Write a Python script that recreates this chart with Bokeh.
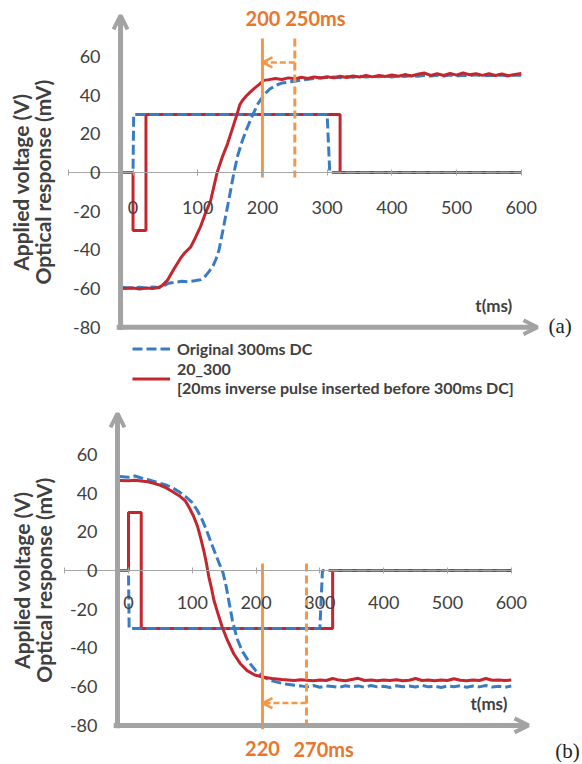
import math
from bokeh.plotting import figure
from bokeh.models import (LinearAxis, FixedTicker, Arrow, OpenHead, Legend,
                          LegendItem, Range1d)
from bokeh.layouts import column
from bokeh.core.properties import value
from bokeh.embed import file_html
from bokeh.resources import INLINE

# ---------------- data : panel (a) ----------------
a_volt_blue_t = [-16, 0, 1, 300, 304, 600]
a_volt_blue = [0, 0, 30, 30, 0, 0]
a_volt_red_t = [-16, 0, 0, 20, 20, 320, 320, 600]
a_volt_red = [0, 0, -30, -30, 30, 30, 0, 0]

a_opt_blue_t = [-16, 0, 10, 20, 30, 40, 48, 55, 65, 75,
                85, 95, 104, 112, 118, 124, 128, 133, 140, 147,
                156, 162, 169, 177, 185, 193, 202, 211, 220, 230,
                240, 250, 260, 270, 280, 290, 300,
                310, 320, 330, 340, 350, 360, 370, 380, 390, 400,
                410, 420, 430, 440, 450, 460, 470, 480, 490, 500,
                510, 520, 530, 540, 550, 560, 570, 580, 590, 600]
a_opt_blue = [-59.5, -59.8, -59.4, -59.7, -59.2, -59.5, -58.5, -57.3, -56.8, -56.3,
              -56.5, -56.0, -55.5, -53.5, -51.0, -48.0, -45.0, -40.0, -28.0, -16.0,
              0.0, 9.0, 16.5, 23.5, 29.8, 35.5, 40.0, 43.0, 45.0, 46.2,
              46.7, 47.2, 47.8, 48.2, 48.6, 48.9, 49.1,
              49.4, 49.0, 49.6, 49.2, 49.8, 49.3, 49.7, 49.5, 49.9, 49.4,
              50.0, 49.6, 50.1, 49.7, 50.2, 49.8, 50.3, 49.9, 50.4, 49.8,
              50.2, 50.0, 50.5, 49.9, 50.3, 50.1, 50.4, 49.9, 50.2, 50.3]

a_opt_red_t = [-16, 0, 10, 20, 30, 40, 45, 53, 63, 73,
               80, 89, 96, 104, 112, 120, 130, 138, 146, 153,
               161, 165, 169, 175, 181, 187, 195, 202,
               210, 220, 230, 240, 250, 260, 270, 280, 290, 300,
               310, 320, 330, 340, 350, 360, 370, 380, 390, 400,
               410, 420, 430, 440, 450, 460, 470, 480, 490, 500,
               510, 520, 530, 540, 550, 560, 570, 580, 590, 600]
a_opt_red = [-60.0, -59.7, -60.2, -59.8, -60.0, -59.5, -58.5, -55.8, -50.0, -44.6,
             -41.5, -38.6, -34.0, -28.3, -21.0, -14.5, 0.0, 8.0, 14.8, 22.0,
             30.4, 35.0, 37.2, 39.5, 41.5, 43.3, 45.5, 47.6,
             48.0, 48.6, 48.1, 48.9, 48.4, 49.2, 48.6, 49.4, 48.8, 49.5,
             48.9, 49.7, 49.1, 49.9, 49.3, 50.1, 49.4, 50.2, 49.6, 50.4,
             49.7, 50.6, 49.9, 50.8, 51.4, 50.2, 51.0, 50.1, 51.2, 50.3,
             51.5, 50.5, 51.1, 50.2, 51.0, 50.1, 50.9, 50.0, 50.7, 51.1]

a_marks_t = [200, 250]
a_mark_labels = ["200 250ms"]

# ---------------- data : panel (b) ----------------
b_volt_blue_t = [-14, 0, 1, 300, 304, 600]
b_volt_blue = [0, 0, -30, -30, 0, 0]
b_volt_red_t = [-14, 0, 0, 20, 20, 320, 320, 600]
b_volt_red = [0, 0, 30, 30, -30, -30, 0, 0]

b_opt_blue_t = [-14, 0, 10, 20, 30, 40, 50, 60, 70, 80,
                90, 100, 108, 115, 122, 130, 137, 143, 148, 153,
                158, 163, 170, 178, 191, 200, 212, 225, 243, 260,
                270, 280, 290, 300, 310, 320, 330, 340, 350, 360,
                370, 380, 390, 400, 410, 420, 430, 440, 450, 460,
                470, 480, 490, 500, 510, 520, 530, 540, 550, 560,
                570, 580, 590, 600]
b_opt_blue = [48.5, 48.2, 48.8, 47.8, 47.0, 46.0, 45.0, 44.0, 42.5, 40.5,
              38.0, 35.0, 31.0, 26.5, 21.0, 14.0, 8.0, 3.0, -1.0, -8.0,
              -17.0, -26.0, -35.0, -41.5, -48.2, -52.0, -55.1, -57.0, -58.5, -59.3,
              -59.6, -60.1, -59.4, -60.3, -59.7, -59.9, -60.4, -59.5, -60.0, -59.6,
              -60.3, -59.4, -60.1, -59.8, -60.4, -59.5, -60.0, -59.7, -60.2, -59.3,
              -60.1, -59.8, -60.4, -59.6, -60.0, -59.5, -60.3, -59.7, -60.1, -59.4,
              -60.2, -59.8, -60.3, -59.7]

b_opt_red_t = [-14, 0, 10, 20, 30, 40, 50, 60, 70, 80,
               89, 96, 102, 108, 113, 118, 122, 126, 130, 134,
               140, 147, 155, 165, 175, 186, 198, 212, 225, 240,
               250, 260, 270, 280, 290, 300, 310, 320, 330, 340,
               350, 360, 370, 380, 390, 400, 410, 420, 430, 440,
               450, 460, 470, 480, 490, 500, 510, 520, 530, 540,
               550, 560, 570, 580, 590, 600]
b_opt_red = [46.5, 46.3, 46.6, 46.2, 45.8, 45.0, 44.0, 42.5, 40.5, 38.5,
             36.0, 32.0, 28.0, 23.0, 17.0, 10.3, 4.0, -3.4, -9.0, -15.5,
             -22.0, -29.3, -36.0, -43.0, -48.0, -51.7, -54.0, -55.1, -55.8, -56.3,
             -56.5, -56.8, -56.4, -56.7, -56.9, -56.5, -56.8, -55.8, -56.6, -56.9,
             -56.3, -55.7, -56.8, -56.5, -56.9, -56.6, -56.8, -56.4, -56.9, -56.7,
             -55.8, -56.8, -56.6, -56.9, -56.5, -56.8, -55.9, -56.7, -56.9, -56.6,
             -56.8, -55.8, -56.7, -56.5, -56.8, -56.6]

b_marks_t = [210, 279]
b_mark_labels = ["220", "270ms"]

y_ticks = [-80, -60, -40, -20, 0, 20, 40, 60]
y_tick_labels = ["-80", "-60", "-40", "-20", "0", "20", "40", "60"]
x_ticks = [-100, 0, 100, 200, 300, 400, 500, 600]
x_tick_labels = ["", "0", "100", "200", "300", "400", "500", "600"]
legend_labels = ["Original 300ms DC",
                 "20_300\n[20ms inverse pulse inserted before 300ms DC]"]

BLUE = "#3A7CC4"
RED = "#C4262E"
ORANGE = "#F79646"
ORANGE_TXT = "#E8762C"
GRAY = "#A3A3A3"
TXT = "#404040"
FONT = "Lato"


def base_figure(height, xr, yr, yaxis_at, x_standoff):
    p = figure(width=582, height=height, x_range=Range1d(*xr), y_range=Range1d(*yr),
               output_backend="svg", toolbar_location=None,
               x_axis_type=None, y_axis_type=None, min_border=0,
               outline_line_color=None)
    p.background_fill_color = "white"
    yax = LinearAxis(fixed_location=yaxis_at, ticker=FixedTicker(ticks=y_ticks),
                     major_label_overrides=dict(zip(y_ticks, y_tick_labels)),
                     axis_line_color=None, major_tick_line_color=None,
                     minor_tick_line_color=None, major_tick_out=0, major_tick_in=0,
                     major_label_standoff=20)
    yax.major_label_text_font = FONT
    yax.major_label_text_font_size = "18px"
    yax.major_label_text_color = TXT
    p.add_layout(yax, "left")
    xax = LinearAxis(fixed_location=0, bounds=(-100, 600), ticker=FixedTicker(ticks=x_ticks),
                     major_label_overrides=dict(zip(x_ticks, x_tick_labels)),
                     axis_line_color="#A6A6A6", axis_line_width=1,
                     major_tick_line_color="#A6A6A6", major_tick_in=3, major_tick_out=3,
                     minor_tick_line_color=None, major_label_standoff=x_standoff)
    xax.major_label_text_font = FONT
    xax.major_label_text_font_size = "18px"
    xax.major_label_text_color = TXT
    p.add_layout(xax, "below")
    return p


def draw_panel(p, vbt, vb, vrt, vr, obt, ob, ort, orr, yaxis_at, y_tip, x_tip,
               title_x, title_y, tms_xy, letter, letter_xy):
    p.line(vrt, vr, line_color=RED, line_width=3)
    p.line(vbt, vb, line_color=BLUE, line_width=3, line_dash="10 4")
    rb = p.line(obt, ob, line_color=BLUE, line_width=3, line_dash="10 4")
    rr = p.line(ort, orr, line_color=RED, line_width=3)
    # axis arrows
    p.add_layout(Arrow(end=OpenHead(size=14, line_color=GRAY, line_width=4),
                       x_start=yaxis_at, y_start=-81.5, x_end=yaxis_at, y_end=y_tip,
                       line_color=GRAY, line_width=5))
    p.add_layout(Arrow(end=OpenHead(size=14, line_color=GRAY, line_width=4),
                       x_start=yaxis_at - 6, y_start=-80, x_end=x_tip, y_end=-80,
                       line_color=GRAY, line_width=5))
    p.text(x=title_x, y=[title_y, title_y],
           text=["Applied voltage (V)", "Optical response (mV)"],
           angle=math.pi / 2, text_align="center", text_baseline="middle",
           text_font=value(FONT), text_font_style="bold", text_font_size="21px",
           text_color=TXT)
    p.text(x=[tms_xy[0]], y=[tms_xy[1]], text=["t(ms)"], text_align="left",
           text_baseline="middle", text_font=value(FONT), text_font_style="bold",
           text_font_size="17px", text_color=TXT)
    p.text(x=[letter_xy[0]], y=[letter_xy[1]], text=[letter], text_align="left",
           text_baseline="middle", text_font=value("Liberation Serif"),
           text_font_size="21px", text_color="#222222")
    return rb, rr


# ---------------- panel (a) ----------------
pa = base_figure(400, (-204.8, 694.6), (-117.9, 88.9), -19.3, 26)
rb, rr = draw_panel(pa, a_volt_blue_t, a_volt_blue, a_volt_red_t, a_volt_red,
                    a_opt_blue_t, a_opt_blue, a_opt_red_t, a_opt_red,
                    -19.3, 81.2, 625, [-173.9, -139.8], -5.0, (529, -68.8),
                    "(a)", (642, -79.6))
pa.segment(x0=[a_marks_t[0]], y0=[69.3], x1=[a_marks_t[0]], y1=[-2.6],
           line_color=ORANGE, line_width=3)
pa.segment(x0=[a_marks_t[1]], y0=[69.3], x1=[a_marks_t[1]], y1=[-2.6],
           line_color=ORANGE, line_width=3, line_dash="8 4")
pa.add_layout(Arrow(end=OpenHead(size=10, line_color=ORANGE, line_width=2.5),
                    x_start=a_marks_t[1], y_start=56.9, x_end=a_marks_t[0], y_end=56.9,
                    line_color=ORANGE, line_width=2.5, line_dash="6 3"))
pa.text(x=[173.9], y=[80.1], text=a_mark_labels, text_align="left",
        text_baseline="middle", text_font=value(FONT), text_font_style="bold",
        text_font_size="20px", text_color=ORANGE_TXT)

legend = Legend(items=[LegendItem(label=legend_labels[0], renderers=[rb]),
                       LegendItem(label=legend_labels[1], renderers=[rr])],
                location=(132, 3), padding=0, margin=0, spacing=0,
                glyph_width=38, glyph_height=21, label_height=21, label_standoff=7,
                border_line_color=None, background_fill_alpha=0)
legend.label_text_font = FONT
legend.label_text_font_style = "bold"
legend.label_text_font_size = "16px"
legend.label_text_color = TXT
pa.add_layout(legend)

# ---------------- panel (b) ----------------
pb = base_figure(364, (-200.6, 711.6), (-100.2, 87.8), -17.2, 23)
draw_panel(pb, b_volt_blue_t, b_volt_blue, b_volt_red_t, b_volt_red,
           b_opt_blue_t, b_opt_blue, b_opt_red_t, b_opt_red,
           -17.2, 81.1, 627, [-167.7, -133.2], -5.0, (536, -68.7),
           "(b)", (669, -93))
pb.segment(x0=[b_marks_t[0]], y0=[3.6], x1=[b_marks_t[0]], y1=[-82],
           line_color=ORANGE, line_width=3)
pb.segment(x0=[b_marks_t[1]], y0=[3.6], x1=[b_marks_t[1]], y1=[-82],
           line_color=ORANGE, line_width=3, line_dash="8 4")
pb.add_layout(Arrow(end=OpenHead(size=10, line_color=ORANGE, line_width=2.5),
                    x_start=b_marks_t[1], y_start=-68.5, x_end=b_marks_t[0], y_end=-68.5,
                    line_color=ORANGE, line_width=2.5, line_dash="6 3"))
pb.text(x=[b_marks_t[0], 258.6], y=[-92, -92], text=b_mark_labels,
        text_align=["center", "left"], text_baseline="middle", text_font=value(FONT),
        text_font_style="bold", text_font_size="20px", text_color=ORANGE_TXT)

layout = column(pa, pb, spacing=0)
open("out.html", "w").write(file_html(layout, INLINE))
